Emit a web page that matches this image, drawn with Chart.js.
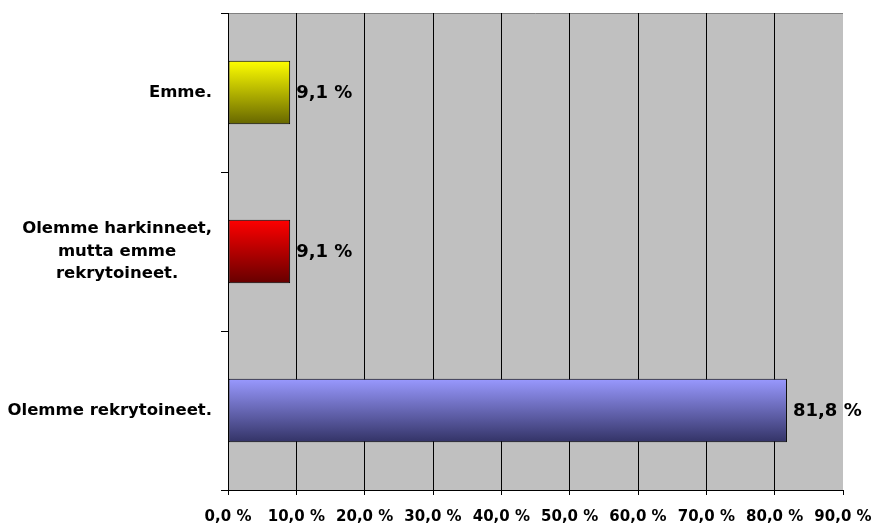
<!DOCTYPE html>
<html>
<head>
<meta charset="utf-8">
<script src="https://cdn.jsdelivr.net/npm/chart.js@4/dist/chart.umd.min.js"></script>
<style>
  html, body { margin: 0; padding: 0; background: #fff; }
  #wrap { width: 873px; height: 523px; }
</style>
</head>
<body>
<div id="wrap"><canvas id="c" width="873" height="523"></canvas></div>
<script>
// data, top to bottom
const categories = ['Emme.', ['Olemme harkinneet,', 'mutta emme', 'rekrytoineet.'], 'Olemme rekrytoineet.'];
const values = [9.1, 9.1, 81.8];
const valueLabels = ['9,1 %', '9,1 %', '81,8 %'];
const xTicks = [0, 10, 20, 30, 40, 50, 60, 70, 80, 90];

// gradient ends per bar (top, bottom)
const barColors = [['#FFFF00', '#666600'], ['#FF0000', '#660000'], ['#9999FF', '#333366']];
const FONT = '"DejaVu Sans", Verdana, sans-serif';

const grad = ctx => {
  const chart = ctx.chart, ca = chart.chartArea, i = ctx.dataIndex;
  if (!ca || !chart.scales.y) return barColors[i][0];
  const y = chart.scales.y.getPixelForValue(i);
  const h = (ca.bottom - ca.top) / categories.length * 0.4;
  const g = chart.ctx.createLinearGradient(0, y - h / 2, 0, y + h / 2);
  g.addColorStop(0, barColors[i][0]);
  g.addColorStop(1, barColors[i][1]);
  return g;
};

const plotBg = {
  id: 'plotBg',
  beforeDraw(chart) {
    const { ctx, chartArea: a } = chart;
    ctx.save();
    ctx.fillStyle = '#C0C0C0';
    ctx.fillRect(a.left, a.top, a.right - a.left, a.bottom - a.top);
    // thin grey top edge
    ctx.strokeStyle = '#808080';
    ctx.lineWidth = 1;
    ctx.beginPath();
    ctx.moveTo(a.left, a.top + 0.5);
    ctx.lineTo(a.right, a.top + 0.5);
    ctx.stroke();
    ctx.restore();
  }
};

// category labels: right edge fixed, multi-line blocks centred within themselves
const catLabels = {
  id: 'catLabels',
  afterDraw(chart) {
    const ctx = chart.ctx, ys = chart.scales.y;
    const right = ys.right - 16, lh = 22.5;
    ctx.save();
    ctx.font = 'bold 16.5px ' + FONT;
    ctx.fillStyle = '#000';
    ctx.textBaseline = 'middle';
    ctx.textAlign = 'center';
    categories.forEach((lab, i) => {
      const lines = [].concat(lab);
      const w = Math.max(...lines.map(t => ctx.measureText(t).width));
      const cx = right - w / 2;
      const y0 = ys.getPixelForValue(i) - (lines.length - 1) * lh / 2;
      lines.forEach((t, k) => ctx.fillText(t, cx, y0 + k * lh));
    });
    ctx.restore();
  }
};

const barLabels = {
  id: 'barLabels',
  afterDatasetsDraw(chart) {
    const ctx = chart.ctx;
    ctx.save();
    ctx.font = 'bold 18px ' + FONT;
    ctx.fillStyle = '#000';
    ctx.textBaseline = 'middle';
    chart.getDatasetMeta(0).data.forEach((bar, i) => {
      ctx.fillText(valueLabels[i], bar.x + 6, bar.y + 1);
    });
    ctx.restore();
  }
};

new Chart(document.getElementById('c'), {
  type: 'bar',
  data: {
    labels: categories,
    datasets: [{
      data: values,
      backgroundColor: grad,
      borderColor: '#000',
      borderWidth: 1,
      borderSkipped: false,
      categoryPercentage: 1,
      barPercentage: 0.4
    }]
  },
  options: {
    indexAxis: 'y',
    responsive: false,
    animation: false,
    layout: { padding: { top: 13, right: 30, left: 0, bottom: 0 } },
    plugins: { legend: { display: false }, tooltip: { enabled: false } },
    scales: {
      x: {
        min: 0, max: 90,
        afterBuildTicks: s => { s.ticks = xTicks.map(v => ({ value: v })); },
        afterFit: s => { s.height = 33; s.paddingLeft = 0; s.paddingRight = 0; },
        grid: {
          color: c => (c.tick && c.tick.value === 90) ? 'rgba(0,0,0,0)' : '#000',
          tickColor: '#000',
          tickLength: 5,
          lineWidth: 1
        },
        border: { display: true, color: '#000' },
        ticks: {
          padding: 13,
          color: '#000',
          font: { family: FONT, size: 15, weight: 'bold' },
          maxRotation: 0,
          callback: v => v.toFixed(1).replace('.', ',') + ' %'
        }
      },
      y: {
        afterFit: s => { s.width = 228; s.paddingTop = 0; s.paddingBottom = 0; },
        grid: { drawOnChartArea: false, color: '#000', tickLength: 7, offset: true },
        border: { display: true, color: '#000' },
        ticks: {
          padding: 9,
          color: 'rgba(0,0,0,0)',
          font: { family: FONT, size: 16.5, weight: 'bold', lineHeight: 1.35 }
        }
      }
    }
  },
  plugins: [plotBg, barLabels, catLabels]
});
</script>
</body>
</html>
